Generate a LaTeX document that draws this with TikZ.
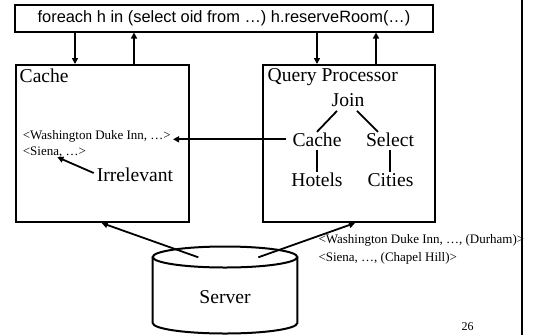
\documentclass[tikz,border=0pt]{standalone}
\usepackage{fontspec}
\setmainfont{Liberation Serif}
\newfontfamily\arialf{Liberation Sans}
\usetikzlibrary{arrows.meta}
\begin{document}
\begin{tikzpicture}[x=1pt,y=-1pt,
  box/.style={draw,line width=2pt,inner sep=0pt},
  arr/.style={line width=1.8pt,-{Triangle[length=6pt,width=6pt]}},
  ln/.style={line width=1.8pt},
  big/.style={inner sep=1pt,font=\fontsize{19.6}{22}\selectfont,text height=13pt,text depth=3pt},
  small/.style={inner sep=0pt,font=\fontsize{13}{15}\selectfont},
]
\fill[white] (0,0) rectangle (534,335);
\useasboundingbox (0,0) rectangle (534,335);
% boxes
\node[box,minimum width=418pt,minimum height=27pt,font=\arialf\fontsize{16.4}{19}\selectfont] (top) at (224,18) {foreach h in (select oid from …) h.reserveRoom(…)};
\node[box,minimum width=173pt,minimum height=157pt] (cachebox) at (102.5,143.5) {};
\node[box,minimum width=172pt,minimum height=157pt] (qpbox) at (348.5,143.5) {};
% titles
\node[big,anchor=base west,inner sep=0pt] (cachelbl) at (19.5,82) {Cache};
\node[big,anchor=base west,inner sep=0pt] (qplbl) at (267.5,81.7) {Query Processor};
% tree
\node[big,anchor=base] (join) at (348,106.7) {Join};
\node[big,anchor=base] (qcache) at (317,146) {Cache};
\node[big,anchor=base] (select) at (390,146) {Select};
\node[big,anchor=base] (hotels) at (317,186) {Hotels};
\node[big,anchor=base] (cities) at (390.5,186) {Cities};
\draw[ln] ([xshift=-11pt]join.south) -- (qcache.north);
\draw[ln] ([xshift=9pt]join.south) -- ([xshift=-12pt]select.north);
\draw[ln] (qcache.south) -- (hotels.north);
\draw[ln] (select.south) -- (select.south |- cities.north);
% cache contents
\node[small,anchor=base west] (wash) at (22.7,139.3) {<Washington Duke Inn, …>};
\node[small,anchor=base west] (siena) at (22.7,155) {<Siena, …>};
\node[big,anchor=base west,inner sep=0pt] (irr) at (96.7,181) {Irrelevant};
\draw[arr] ([xshift=-5pt]qcache.west |- wash.base east) -- ([xshift=2pt]wash.base east);
\draw[arr] ([xshift=-3pt,yshift=3pt]irr.west) -- ([xshift=3pt]siena.south);
% top arrows
\coordinate (a1) at (75,0);
\coordinate (a2) at (134,0);
\coordinate (a3) at (317,0);
\coordinate (a4) at (376,0);
\draw[arr] (top.south -| a1) -- (cachebox.north -| a1);
\draw[arr] (cachebox.north -| a2) -- (top.south -| a2);
\draw[arr] (top.south -| a3) -- (qpbox.north -| a3);
\draw[arr] (qpbox.north -| a4) -- (top.south -| a4);
% server cylinder
\draw[line width=2pt,fill=white] (225,257) ellipse [x radius=72.3, y radius=10.5];
\draw[line width=2pt] (152.7,257) -- (152.7,323) arc[start angle=180,end angle=0,x radius=72.3,y radius=10.5] -- (297.3,257);
\node[big,anchor=base] (server) at (225,303) {Server};
\coordinate (s1) at (198.3,257.3);
\coordinate (s2) at (258.3,257.3);
\coordinate (t1) at (101.7,0);
\coordinate (t2) at (355,0);
\draw[arr] (s1) -- (cachebox.south -| t1);
\draw[arr] (s2) -- (qpbox.south -| t2);
% server results
\node[small,anchor=base west] (r1) at (318.3,243.3) {<Washington Duke Inn, …, (Durham)>};
\node[small,anchor=base west] (r2) at (318.3,261) {<Siena, …, (Chapel Hill)>};
\node[font=\fontsize{12}{14}\selectfont,anchor=base,inner sep=0pt] (pg) at (467.5,330) {26};
\draw[line width=2pt] (521.7,0) -- (521.7,335);
\end{tikzpicture}
\end{document}
